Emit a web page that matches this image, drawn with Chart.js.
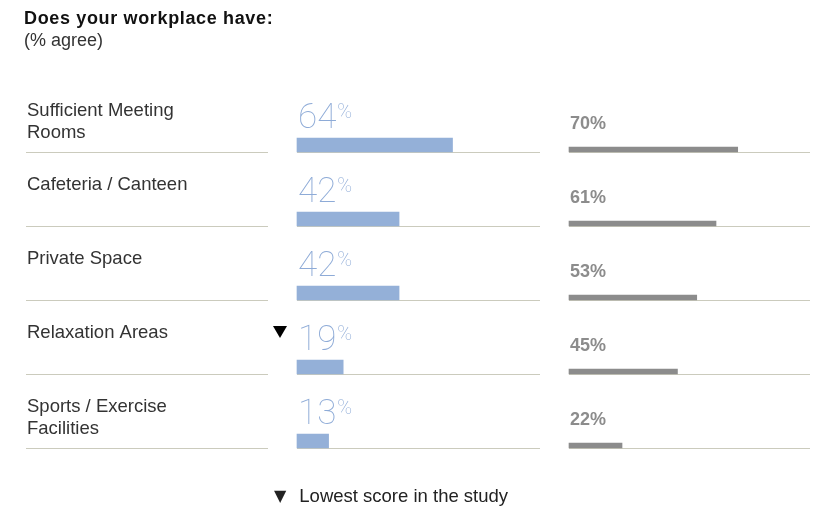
<!DOCTYPE html>
<html>
<head>
<meta charset="utf-8">
<script src="https://cdn.jsdelivr.net/npm/chart.js@4.4.1/dist/chart.umd.min.js"></script>
<style>
  html, body { margin: 0; padding: 0; background: #ffffff; }
  #wrap { position: relative; width: 820px; height: 509px; overflow: hidden; }
  #chart { position: absolute; left: 0; top: 0; }
  .txt { position: absolute; white-space: nowrap; font-family: 'Liberation Sans', Arial, Helvetica, sans-serif; }
  #title { left: 24px; top: 8px; font-size: 18px; line-height: 20px; font-weight: bold; letter-spacing: 0.65px; color: #111; }
  #subtitle { left: 24px; top: 30px; font-size: 18px; line-height: 20px; color: #333; }
  #legend { left: 274px; top: 485px; font-size: 18.5px; line-height: 22px; color: #222; }
  #legend .tri { font-family: 'DejaVu Sans', sans-serif; font-size: 16px; margin-right: 13px; position: relative; top: -1px; }
</style>
</head>
<body>
<div id="wrap">
  <canvas id="chart" width="820" height="509"></canvas>
  <div class="txt" id="title">Does your workplace have:</div>
  <div class="txt" id="subtitle">(% agree)</div>
  <div class="txt" id="legend"><span class="tri">▼</span>Lowest score in the study</div>
</div>
<script>
// ---------- data ----------
const categories = [
  ["Sufficient Meeting", "Rooms"],
  ["Cafeteria / Canteen"],
  ["Private Space"],
  ["Relaxation Areas"],
  ["Sports / Exercise", "Facilities"]
];
const workplaceValues = [64, 42, 42, 19, 13];
const comparisonValues = [70, 61, 53, 45, 22];
const lowestScoreFlags = [false, false, false, true, false];

// ---------- styles / layout ----------
const BLUE = '#94b0d8';
const BLUE_TEXT = '#8eabd7';
const GREY = '#8c8c8c';
const RULE = '#cbcbbd';
const BLUE_T = 14;
const GREY_T = 5;
const COLS = { labelLeft: 26, labelRight: 268, blueLeft: 297, blueRight: 540, greyLeft: 569, greyRight: 810 };
const FONT = "'Liberation Sans', Arial, Helvetica, sans-serif";
const THIN = "Roboto, Lato, 'Open Sans', sans-serif";

const layoutPlugin = {
  id: 'columnLayout',
  afterLayout(chart) {
    const s = chart.scales;
    const setX = (sc, l, r) => { sc.left = l; sc.right = r; sc.width = r - l; sc.configure(); };
    setX(s.xb, COLS.blueLeft, COLS.blueRight);
    setX(s.xg, COLS.greyLeft, COLS.greyRight);
    const band = (s.y.bottom - s.y.top) / categories.length;
    const shiftY = (sc, d) => { sc.top = s.y.top + d; sc.bottom = s.y.bottom + d; sc.height = sc.bottom - sc.top; sc.configure(); };
    shiftY(s.yb, band / 2 - BLUE_T / 2);
    shiftY(s.yg, band / 2 - GREY_T / 2);
  }
};

const decorPlugin = {
  id: 'decor',
  beforeDatasetsDraw(chart) {
    const ctx = chart.ctx;
    const y = chart.scales.y;
    const band = (y.bottom - y.top) / categories.length;
    ctx.save();
    ctx.strokeStyle = RULE;
    ctx.lineWidth = 1;
    categories.forEach((c, i) => {
      const yy = Math.round(y.getPixelForValue(i) + band / 2) + 0.5;
      [[COLS.labelLeft, COLS.labelRight], [COLS.blueLeft, COLS.blueRight], [COLS.greyLeft, COLS.greyRight]].forEach(([a, b]) => {
        ctx.beginPath(); ctx.moveTo(a, yy); ctx.lineTo(b, yy); ctx.stroke();
      });
    });
    ctx.restore();
  },
  afterDatasetsDraw(chart) {
    const ctx = chart.ctx;
    const y = chart.scales.y;
    const band = (y.bottom - y.top) / categories.length;
    const blueMeta = chart.getDatasetMeta(0);
    const greyMeta = chart.getDatasetMeta(1);
    ctx.save();
    ctx.textBaseline = 'alphabetic';
    ctx.textAlign = 'left';
    categories.forEach((lines, i) => {
      // category label
      const top = y.getPixelForValue(i) - band / 2;
      ctx.fillStyle = '#333333';
      ctx.font = '18.5px ' + FONT;
      lines.forEach((ln, k) => ctx.fillText(ln, COLS.labelLeft + 1, top + 38 + k * 22));

      // blue value
      const bb = blueMeta.data[i];
      const bTop = bb.y - BLUE_T / 2;
      const base = bb.base;
      const baseline = bTop - 10;
      ctx.fillStyle = BLUE_TEXT;
      ctx.font = '100 35px ' + THIN;
      const num = String(workplaceValues[i]);
      ctx.fillText(num, base + 1, baseline);
      const w = ctx.measureText(num).width;
      ctx.font = '100 20px ' + THIN;
      ctx.fillText('%', base + 1 + w + 1, baseline - 10);

      // lowest-score marker
      if (lowestScoreFlags[i]) {
        const r = base - 10, t = baseline - 24;
        ctx.fillStyle = '#000';
        ctx.beginPath();
        ctx.moveTo(r - 14, t); ctx.lineTo(r, t); ctx.lineTo(r - 7, t + 12); ctx.closePath();
        ctx.fill();
      }

      // grey value
      const gb = greyMeta.data[i];
      ctx.fillStyle = GREY;
      ctx.font = 'bold 18px ' + FONT;
      ctx.fillText(comparisonValues[i] + '%', gb.base + 1, gb.y - GREY_T / 2 - 18);
    });
    ctx.restore();
  }
};

new Chart(document.getElementById('chart'), {
  type: 'bar',
  data: {
    labels: categories.map(c => c.join(' ')),
    datasets: [
      { label: 'Your workplace', data: workplaceValues, xAxisID: 'xb', yAxisID: 'yb',
        backgroundColor: BLUE, barThickness: BLUE_T, grouped: false, clip: false, borderWidth: 0 },
      { label: 'Comparison', data: comparisonValues, xAxisID: 'xg', yAxisID: 'yg',
        backgroundColor: GREY, barThickness: GREY_T, grouped: false, clip: false, borderWidth: 0 }
    ]
  },
  options: {
    indexAxis: 'y',
    responsive: false,
    animation: false,
    events: [],
    layout: { padding: { left: 26, right: 10, top: 78, bottom: 61 } },
    plugins: { legend: { display: false }, tooltip: { enabled: false }, title: { display: false } },
    scales: {
      y:  { type: 'category', display: false, offset: true },
      yb: { type: 'category', display: false, offset: true },
      yg: { type: 'category', display: false, offset: true },
      xb: { type: 'linear', min: 0, max: 100, display: false },
      xg: { type: 'linear', min: 0, max: 100, display: false }
    }
  },
  plugins: [layoutPlugin, decorPlugin]
});
</script>
</body>
</html>
